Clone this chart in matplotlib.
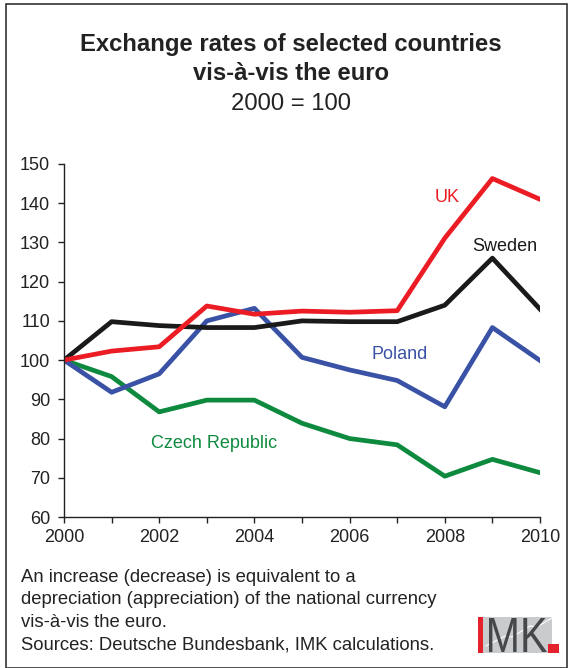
import numpy as np
import matplotlib.pyplot as plt
from matplotlib.patches import Rectangle, PathPatch
from matplotlib.lines import Line2D
from matplotlib.textpath import TextPath
from matplotlib.font_manager import FontProperties
from matplotlib.transforms import Affine2D, IdentityTransform

years = list(range(2000, 2011))
uk = [100, 102.3, 103.4, 113.8, 111.7, 112.5, 112.2, 112.6, 131.1, 146.3, 141.0]
sweden = [100, 109.8, 108.8, 108.3, 108.3, 110.0, 109.8, 109.8, 114.0, 126.0, 113.0]
poland = [100, 91.8, 96.5, 110.0, 113.2, 100.7, 97.5, 94.8, 88.1, 108.3, 99.9]
czech = [100, 95.8, 86.8, 89.8, 89.8, 83.9, 80.0, 78.4, 70.4, 74.7, 71.3]

W, H = 568, 668
fig = plt.figure(figsize=(W / 100, H / 100), dpi=100)
plt.rcParams['font.family'] = ['Liberation Sans', 'DejaVu Sans']

# plot area in pixels: x 64..540, y 164..517
ax = fig.add_axes([64 / W, 1 - 517 / H, (540 - 64) / W, (517 - 164) / H])

lw = 3.4
ax.plot(years, czech, color='#0e8a3e', lw=lw)
ax.plot(years, poland, color='#3a52a5', lw=lw)
ax.plot(years, sweden, color='#1a1a1a', lw=lw)
ax.plot(years, uk, color='#ec1c24', lw=lw)

ax.set_xlim(2000, 2010)
ax.set_ylim(60, 150)
ax.set_xticks(years)
ax.set_xticklabels([str(y) if y % 2 == 0 else '' for y in years])
ax.set_yticks(range(60, 151, 10))
for s in ['top', 'right']:
    ax.spines[s].set_visible(False)
for s in ['left', 'bottom']:
    ax.spines[s].set_color('#222222')
    ax.spines[s].set_linewidth(1.0)
ax.tick_params(axis='both', direction='out', length=4, width=1.0, color='#222222',
               labelsize=13, labelcolor='#222222')
ax.tick_params(axis='x', pad=5)
ax.tick_params(axis='y', pad=6)

fs = 13
ax.text(2008.05, 141.5, 'UK', color='#ec1c24', fontsize=fs, ha='center', va='center')
ax.text(2009.27, 129.0, 'Sweden', color='#1a1a1a', fontsize=fs, ha='center', va='center')
ax.text(2007.05, 101.5, 'Poland', color='#3a52a5', fontsize=fs, ha='center', va='center')
ax.text(2003.15, 78.8, 'Czech Republic', color='#0e8a3e', fontsize=fs, ha='center', va='center')

# title
tx = 291 / W
fig.text(tx, 1 - 45 / H, 'Exchange rates of selected countries', ha='center', va='center',
         fontsize=17.2, fontweight='bold', color='#222222')
fig.text(tx, 1 - 74 / H, 'vis-à-vis the euro', ha='center', va='center',
         fontsize=17.2, fontweight='bold', color='#222222')
fig.text(tx, 1 - 104 / H, '2000 = 100', ha='center', va='center',
         fontsize=17.2, color='#222222')

# footnote
notes = ['An increase (decrease) is equivalent to a',
         'depreciation (appreciation) of the national currency',
         'vis-à-vis the euro.',
         'Sources: Deutsche Bundesbank, IMK calculations.']
for i, line in enumerate(notes):
    fig.text(21 / W, 1 - (577 + i * 22.7) / H, line, ha='left', va='center',
             fontsize=13.3, color='#222222')

# frame
fig.patches.append(Rectangle((6 / W, 0), (566.5 - 6) / W, 1 - 4 / H, transform=fig.transFigure,
                             fill=False, edgecolor='#333333', lw=1.2))

# IMK logo
fig.patches.append(Rectangle((478 / W, 1 - 653 / H), 74 / W, 36 / H, transform=fig.transFigure,
                             facecolor='#c9cbcc', edgecolor='none', zorder=0.4))
fig.lines.append(Line2D([486 / W, 505 / W, 512 / W, 530 / W, 537 / W, 552 / W],
                        [1 - 646 / H, 1 - 636 / H, 1 - 637 / H, 1 - 626 / H, 1 - 627 / H, 1 - 618 / H],
                        transform=fig.transFigure, color='white', lw=0.8, zorder=0.5))
tp = TextPath((0, 0), 'MK', size=1, prop=FontProperties(family='Liberation Sans'))
ext = tp.get_extents()
sx = 58 / ext.width
sy = 34 / ext.height
tr = Affine2D().translate(-ext.x0, -ext.y0).scale(sx, sy).translate(489, H - 652)
fig.patches.append(PathPatch(tr.transform_path(tp), transform=IdentityTransform(),
                             facecolor='#45484b', edgecolor='none', zorder=1))
fig.patches.append(Rectangle((478 / W, 1 - 653 / H), 5 / W, 36 / H, transform=fig.transFigure,
                             facecolor='#e3222b', edgecolor='none', zorder=1))
fig.patches.append(Rectangle((548 / W, 1 - 653 / H), 11 / W, 9 / H, transform=fig.transFigure,
                             facecolor='#e3222b', edgecolor='none', zorder=1))

fig.savefig('out.png', dpi=100)
